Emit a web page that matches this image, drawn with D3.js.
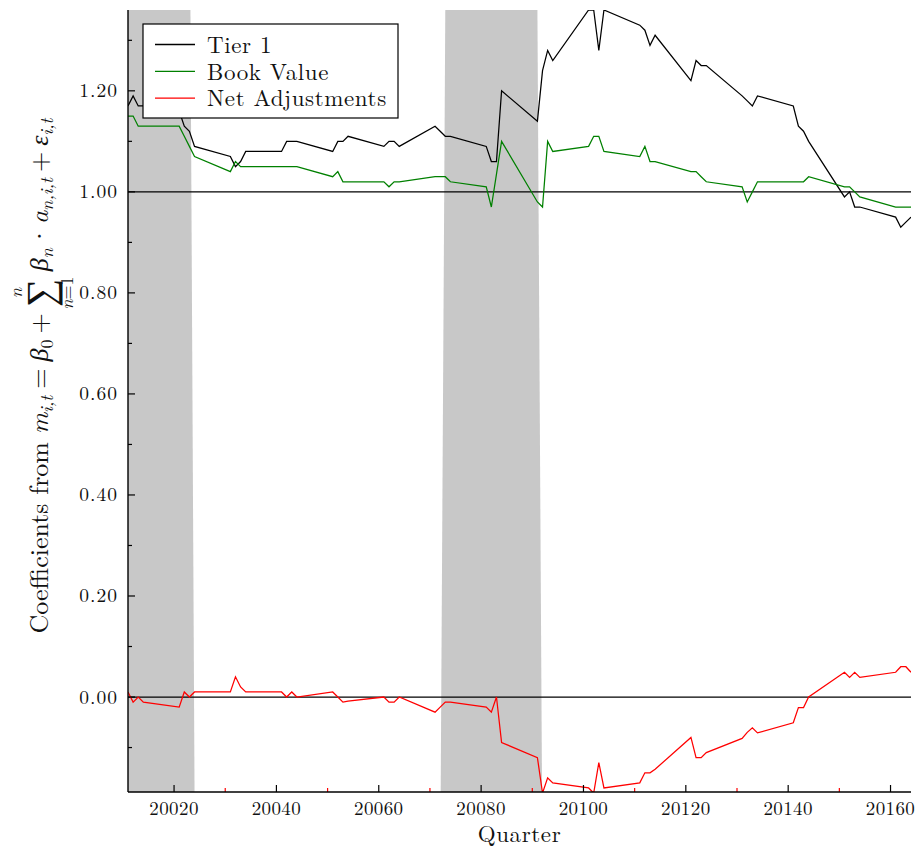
<!DOCTYPE html>
<html>
<head>
<meta charset="utf-8">
<script src="https://cdn.jsdelivr.net/npm/d3@7/dist/d3.min.js"></script>
<style>
  body { margin: 0; background: #fff; }
  svg text { fill: #111; white-space: pre; }
</style>
</head>
<body>
<div id="chart"></div>
<script>
// Datos: trimestre (año*10 + trimestre) y coeficientes
const quarters = [
  20011, 20012, 20013, 20014, 20021, 20022, 20023, 20024,
  20031, 20032, 20033, 20034, 20041, 20042, 20043, 20044,
  20051, 20052, 20053, 20054, 20061, 20062, 20063, 20064,
  20071, 20072, 20073, 20074, 20081, 20082, 20083, 20084,
  20091, 20092, 20093, 20094, 20101, 20102, 20103, 20104,
  20111, 20112, 20113, 20114, 20121, 20122, 20123, 20124,
  20131, 20132, 20133, 20134, 20141, 20142, 20143, 20144,
  20151, 20152, 20153, 20154, 20161, 20162, 20163, 20164
];
const tier1 = [
  1.17, 1.19, 1.17, 1.17, 1.16, 1.13, 1.12, 1.09,
  1.07, 1.05, 1.06, 1.08, 1.08, 1.10, 1.10, 1.10,
  1.08, 1.10, 1.10, 1.11, 1.09, 1.10, 1.10, 1.09,
  1.13, 1.12, 1.11, 1.11, 1.09, 1.06, 1.06, 1.20,
  1.14, 1.24, 1.28, 1.26, 1.36, 1.36, 1.28, 1.36,
  1.33, 1.32, 1.29, 1.31, 1.22, 1.26, 1.25, 1.25,
  1.19, 1.18, 1.17, 1.19, 1.17, 1.13, 1.12, 1.10,
  0.99, 1.00, 0.97, 0.97, 0.95, 0.93, 0.94, 0.95
];
const bookValue = [
  1.15, 1.15, 1.13, 1.13, 1.13, 1.11, 1.09, 1.07,
  1.04, 1.06, 1.05, 1.05, 1.05, 1.05, 1.05, 1.05,
  1.03, 1.04, 1.02, 1.02, 1.02, 1.01, 1.02, 1.02,
  1.03, 1.03, 1.03, 1.02, 1.01, 0.97, 1.035, 1.10,
  0.98, 0.97, 1.10, 1.08, 1.09, 1.11, 1.11, 1.08,
  1.07, 1.09, 1.06, 1.06, 1.04, 1.04, 1.03, 1.02,
  1.01, 0.98, 1.00, 1.02, 1.02, 1.02, 1.02, 1.03,
  1.01, 1.01, 1.00, 0.99, 0.97, 0.97, 0.97, 0.97
];
const netAdjustments = [
  0.01, -0.01, 0.00, -0.01, -0.02, 0.01, 0.00, 0.01,
  0.01, 0.04, 0.02, 0.01, 0.01, 0.00, 0.01, 0.00,
  0.01, 0.00, -0.01, -0.008, 0.00, -0.01, -0.01, 0.00,
  -0.03, -0.02, -0.01, -0.01, -0.02, -0.03, 0.00, -0.09,
  -0.12, -0.19, -0.16, -0.17, -0.18, -0.19, -0.13, -0.18,
  -0.17, -0.15, -0.15, -0.143, -0.08, -0.12, -0.12, -0.11,
  -0.082, -0.07, -0.061, -0.071, -0.051, -0.021, -0.021, 0.00,
  0.049, 0.039, 0.049, 0.039, 0.049, 0.06, 0.06, 0.049
];
// Recesiones: borde superior e inferior del sombreado
const recessionTop = [[20010, 20023.2], [20073.0, 20091.0]];
const recessionBottom = [[20010, 20024.0], [20072.1, 20091.9]];

const xTicks = [20020, 20040, 20060, 20080, 20100, 20120, 20140, 20160];
const xMinorTicks = [20030, 20050, 20070, 20090, 20110, 20130, 20150];
const yTicks = [0.0, 0.2, 0.4, 0.6, 0.8, 1.0, 1.2];
const yMinorTicks = [-0.1, 0.1, 0.3, 0.5, 0.7, 0.9, 1.1, 1.3];
const refLines = [0, 1];
const seriesNames = ["Tier 1", "Book Value", "Net Adjustments"];

const colors = ["#000000", "#008000", "#ff0000"];
const width = 918;
const height = 848;
const margin = { top: 10, bottom: 56, left: 128, right: 7 };
const serif = '"Latin Modern Roman", "Liberation Serif", "DejaVu Serif", serif';

const svg = d3.select("div#chart").append("svg")
  .attr("width", width)
  .attr("height", height);

// todas las etiquetas con la misma fuente
function txt(sel) {
  return sel.append("text").style("font-family", serif);
}

const x = d3.scaleLinear().domain([20011, 20164]).range([margin.left, width - margin.right]);
const y = d3.scaleLinear().domain([-0.188, 1.36]).range([height - margin.bottom, margin.top]);

svg.append("clipPath").attr("id", "plotClip")
  .append("rect")
  .attr("x", margin.left).attr("y", margin.top)
  .attr("width", width - margin.left - margin.right)
  .attr("height", height - margin.top - margin.bottom);

const plot = svg.append("g").attr("clip-path", "url(#plotClip)");

// sombreado de recesiones
const yMin = y.domain()[0], yMax = y.domain()[1];
plot.selectAll("polygon.recession")
  .data(d3.range(recessionTop.length))
  .enter().append("polygon")
  .attr("class", "recession")
  .attr("fill", "#c8c8c8")
  .attr("points", (i) => [
    [x(recessionTop[i][0]), y(yMax)],
    [x(recessionTop[i][1]), y(yMax)],
    [x(recessionBottom[i][1]), y(yMin)],
    [x(recessionBottom[i][0]), y(yMin)]
  ].map((p) => p.join(",")).join(" "));

// lineas de referencia en 0 y 1
plot.selectAll("line.ref").data(refLines).enter().append("line")
  .attr("x1", x.range()[0]).attr("x2", x.range()[1])
  .attr("y1", (d) => y(d)).attr("y2", (d) => y(d))
  .attr("stroke", "#000").attr("stroke-width", 1.3);

// series
const series = [tier1, bookValue, netAdjustments];
const line = d3.line().x((d) => x(d[0])).y((d) => y(d[1]));
series.forEach((vals, i) => {
  plot.append("path")
    .datum(quarters.map((q, j) => [q, vals[j]]))
    .attr("fill", "none")
    .attr("stroke", colors[i])
    .attr("stroke-width", 1.25)
    .attr("stroke-linejoin", "miter")
    .attr("d", line);
});

// ejes
const axisGroup = svg.append("g").attr("id", "axisGroup");
const bottomY = y.range()[0];
const leftX = x.range()[0];

axisGroup.selectAll("line.xmaj").data(xTicks).enter().append("line")
  .attr("x1", (d) => x(d)).attr("x2", (d) => x(d))
  .attr("y1", bottomY).attr("y2", bottomY - 7)
  .attr("stroke", "#000").attr("stroke-width", 1.2);
axisGroup.selectAll("line.xmin").data(xMinorTicks).enter().append("line")
  .attr("x1", (d) => x(d)).attr("x2", (d) => x(d))
  .attr("y1", bottomY).attr("y2", bottomY - 4)
  .attr("stroke", "#ff0000").attr("stroke-width", 1.2);
xTicks.forEach((d) => {
  txt(axisGroup)
    .attr("x", x(d))
    .attr("y", 815)
    .attr("text-anchor", "middle")
    .attr("font-size", 19)
    .attr("letter-spacing", 0.4)
    .text(d);
});

axisGroup.selectAll("line.ymaj").data(yTicks).enter().append("line")
  .attr("x1", leftX).attr("x2", leftX + 7)
  .attr("y1", (d) => y(d)).attr("y2", (d) => y(d))
  .attr("stroke", "#000").attr("stroke-width", 1.2);
axisGroup.selectAll("line.ymin").data(yMinorTicks).enter().append("line")
  .attr("x1", leftX).attr("x2", leftX + 4)
  .attr("y1", (d) => y(d)).attr("y2", (d) => y(d))
  .attr("stroke", "#000").attr("stroke-width", 1.2);
yTicks.forEach((d) => {
  txt(axisGroup)
    .attr("x", 118)
    .attr("y", y(d) + 6.5)
    .attr("text-anchor", "end")
    .attr("font-size", 19.5)
    .attr("letter-spacing", 1)
    .text(d3.format(".2f")(d));
});

axisGroup.append("line")
  .attr("x1", leftX).attr("x2", leftX)
  .attr("y1", y.range()[1]).attr("y2", bottomY)
  .attr("stroke", "#000").attr("stroke-width", 1.4);
axisGroup.append("line")
  .attr("x1", leftX).attr("x2", x.range()[1])
  .attr("y1", bottomY).attr("y2", bottomY)
  .attr("stroke", "#000").attr("stroke-width", 1.4);

txt(svg)
  .attr("x", (x.range()[0] + x.range()[1]) / 2)
  .attr("y", 842)
  .attr("text-anchor", "middle")
  .attr("font-size", 23)
  .attr("letter-spacing", 0.6)
  .text("Quarter");

// etiqueta del eje Y (formula)
const ylab = svg.append("g");
const fs = 26, sub = 18;
let cur = 0;
function piece(content, o) {
  o = o || {};
  const t = txt(ylab)
    .attr("x", cur)
    .attr("y", o.dy || 0)
    .attr("font-size", o.size || fs)
    .attr("font-style", o.italic ? "italic" : "normal")
    .text(content);
  const w = t.node().getComputedTextLength();
  if (!o.noAdvance) cur += w;
  return w;
}
piece("Coefficients from");
cur += 8;
piece("m", { italic: true });
piece("i,t", { italic: true, size: sub, dy: 5 });
cur += 7;
piece("=");
cur += 7;
piece("β", { italic: true });
piece("0", { size: sub, dy: 5 });
cur += 6;
piece("+");
cur += 6;
const sumStart = cur;
const sw = piece("∑", { size: 40, dy: 6, noAdvance: true });
const mid = sumStart + sw / 2;
txt(ylab).attr("x", mid).attr("y", -26).attr("font-size", sub)
  .attr("font-style", "italic").attr("text-anchor", "middle").text("n");
txt(ylab).attr("x", mid).attr("y", 25).attr("font-size", sub)
  .attr("text-anchor", "middle")
  .call((t) => {
    t.append("tspan").attr("font-style", "italic").text("n");
    t.append("tspan").text("=1");
  });
cur += Math.max(sw, 30) + 6;
piece("β", { italic: true });
piece("n", { italic: true, size: sub, dy: 5 });
cur += 2;
piece("·");
cur += 2;
piece("a", { italic: true });
piece("n,i,t", { italic: true, size: sub, dy: 5 });
cur += 6;
piece("+");
cur += 6;
piece("ε", { italic: true });
piece("i,t", { italic: true, size: sub, dy: 5 });
const totalLen = cur;
ylab.attr("transform", `translate(48, ${376 + totalLen / 2}) rotate(-90)`);

// leyenda
const legend = svg.append("g").attr("transform", "translate(143, 24)");
legend.append("rect")
  .attr("width", 255).attr("height", 94)
  .attr("fill", "#fff").attr("stroke", "#000").attr("stroke-width", 1.2);
seriesNames.forEach((name, i) => {
  const item = legend.append("g")
    .attr("transform", `translate(0, ${20.5 + i * 26.8})`);
  item.append("line")
    .attr("x1", 12).attr("x2", 52)
    .attr("stroke", colors[i]).attr("stroke-width", 1.3);
  txt(item)
    .attr("x", 64).attr("y", 8.2)
    .attr("font-size", 23)
    .attr("letter-spacing", 0.6)
    .text(name);
});
</script>
</body>
</html>
